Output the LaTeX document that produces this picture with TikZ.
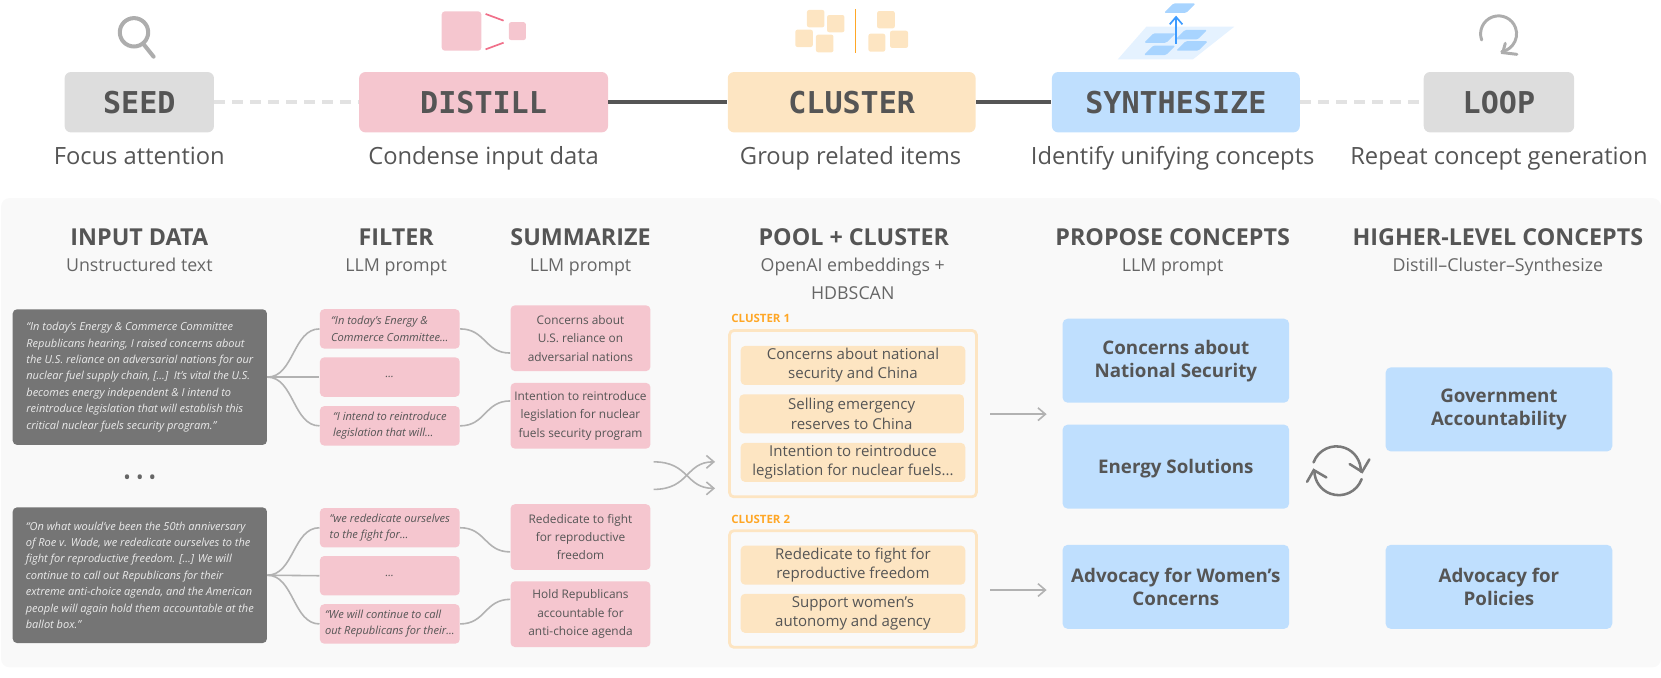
\documentclass[tikz,border=0pt]{standalone}
\usepackage{fontspec}
\setmainfont{Open Sans}
\newfontfamily\monofnt{DejaVu Sans Mono}
\usetikzlibrary{positioning,calc,arrows.meta}
\definecolor{inkgrey}{HTML}{555555}
\definecolor{softgrey}{HTML}{DDDDDD}
\definecolor{softpink}{HTML}{F5C6CF}
\definecolor{softorange}{HTML}{FDE5C2}
\definecolor{softblue}{HTML}{BFDFFE}
\definecolor{iconblue}{HTML}{A8D4FF}
\definecolor{panelgrey}{HTML}{F9F9F9}
\definecolor{strongpink}{HTML}{F0708A}
\definecolor{strongorange}{HTML}{FFA726}
\definecolor{strongblue}{HTML}{3D9BFF}
\tikzset{
  stagebox/.style={rounded corners=3pt, minimum height=28.5pt, inner sep=0pt, text=inkgrey,
    font=\monofnt\bfseries\fontsize{14.2}{16}\selectfont},
  stagetext/.style={anchor=base, text=inkgrey, inner sep=0pt, font=\fontsize{11.2}{14}\selectfont},
  headtext/.style={anchor=base, text=inkgrey, inner sep=0pt, font=\bfseries\fontsize{11}{13}\selectfont},
  subtext/.style={anchor=base, text=inkgrey!90, inner sep=0pt, align=center, font=\fontsize{8.4}{13.5}\selectfont},
  darkbox/.style={fill=black!54, rounded corners=2pt, minimum height=64pt, minimum width=120pt, inner sep=0pt,
    align=left, text=white!92!black, font=\itshape\fontsize{5.2}{7.75}\selectfont},
  filterbox/.style={fill=softpink, rounded corners=2pt, minimum width=66pt, minimum height=18.6pt, inner sep=0pt,
    align=left, text=inkgrey, font=\itshape\fontsize{5.25}{7.7}\selectfont},
  sumbox/.style={fill=softpink, rounded corners=2pt, minimum width=66pt, minimum height=31pt, inner sep=0pt,
    align=center, text=inkgrey, font=\fontsize{5.6}{8.65}\selectfont},
  groupbox/.style={draw=softorange, line width=1.3pt, rounded corners=2pt, minimum width=116.5pt, inner sep=0pt},
  itembox/.style={fill=softorange, rounded corners=2pt, minimum width=106pt, minimum height=18.4pt, inner sep=0pt,
    align=center, text=inkgrey, font=\fontsize{7.1}{9}\selectfont, execute at begin node={\rule{0pt}{7.4pt}}},
  grouptext/.style={anchor=west, inner sep=0pt, text=strongorange, font=\bfseries\fontsize{5.4}{7}\selectfont},
  conceptbox/.style={fill=softblue, rounded corners=2.5pt, minimum width=107pt, minimum height=39.7pt, inner sep=0pt,
    align=center, text=inkgrey, font=\bfseries\fontsize{8.85}{10.8}\selectfont, execute at begin node={\rule{0pt}{8.8pt}}},
  thinline/.style={draw=black!30, line width=0.75pt},
  iconline/.style={draw=black!32, line width=1.9pt, line cap=round},
}
\begin{document}
\begin{tikzpicture}[x=0.5pt, y=-0.5pt, >={Straight Barb[length=3.5pt,width=6pt]}]
\useasboundingbox (0,0) rectangle (1568,640);
\fill[panelgrey, rounded corners=4pt] (1,187) rectangle (1568,630);

% ----------------- Stages -----------------
\node (seedbox) [stagebox, fill=softgrey, minimum width=70.5pt] at (131.5,96.5) {SEED};
\node (distillbox) [stagebox, fill=softpink, minimum width=117.5pt] at (456.5,96.5) {DISTILL};
\node (clusterbox) [stagebox, fill=softorange, minimum width=117pt] at (804,96.5) {CLUSTER};
\node (synthbox) [stagebox, fill=softblue, minimum width=117pt] at (1110,96.5) {SYNTHESIZE};
\node (loopbox) [stagebox, fill=softgrey, minimum width=71pt] at (1415,96.5) {LOOP};

\node (seedtext) [stagetext] at (131.5,155) {Focus attention};
\node (distilltext) [stagetext] at (456.5,155) {Condense input data};
\node (clustertext) [stagetext] at (803,155) {Group related items};
\node (synthtext) [stagetext] at (1107,155) {Identify unifying concepts};
\node (looptext) [stagetext] at (1415,155) {Repeat concept generation};

\draw[softgrey!85, line width=1.9pt, dash pattern=on 5pt off 3.5pt] (seedbox) -- (distillbox);
\draw[inkgrey, line width=1.9pt] (distillbox) -- (clusterbox);
\draw[inkgrey, line width=1.9pt] (clusterbox) -- (synthbox);
\draw[softgrey!85, line width=1.9pt, dash pattern=on 5pt off 3.5pt] (synthbox) -- (loopbox);

% ----------------- Icons -----------------
\draw[iconline] (126.5,30.5) circle[radius=6.7pt];
\draw[iconline] (135,41) -- (145,53.5);

\fill[softpink, rounded corners=1.5pt] (417,10.7) rectangle (454.4,47.9);
\fill[softpink, rounded corners=1pt] (480.4,21) rectangle (496.4,37.8);
\draw[strongpink, line width=0.8pt] (458.4,13.2) -- (475.4,19.5);
\draw[strongpink, line width=0.8pt] (458.4,46.6) -- (475.4,40.3);

\fill[softorange, rounded corners=1pt] (761.8,9.4) rectangle (778.3,25.8);
\fill[softorange, rounded corners=1pt] (750.8,28) rectangle (767.3,44.4);
\fill[softorange, rounded corners=1pt] (770.3,32.7) rectangle (786.8,49.4);
\fill[softorange, rounded corners=1pt] (780.7,14.2) rectangle (797.2,30.5);
\draw[strongorange, line width=0.8pt] (807.7,8.5) -- (807.7,50.4);
\fill[softorange, rounded corners=1pt] (828,10.4) rectangle (844.7,26.8);
\fill[softorange, rounded corners=1pt] (819.8,31.8) rectangle (835.7,48.8);
\fill[softorange, rounded corners=1pt] (840.2,29) rectangle (857.2,45.3);

\fill[iconblue!30] (1082.2,25.2) -- (1165.2,25.2) -- (1126.2,56) -- (1055.2,56) -- cycle;
\fill[iconblue, rounded corners=0.7pt] (1107.7,3.2) -- ++(21,0) -- ++(-9,9) -- ++(-21,0) -- cycle;
\fill[iconblue, rounded corners=0.7pt] (1089,31.4) -- ++(21,0) -- ++(-9,9) -- ++(-21,0) -- cycle;
\fill[iconblue, rounded corners=0.7pt] (1118.7,28.2) -- ++(21,0) -- ++(-9,9) -- ++(-21,0) -- cycle;
\fill[iconblue, rounded corners=0.7pt] (1088.7,43) -- ++(21,0) -- ++(-9,9) -- ++(-21,0) -- cycle;
\fill[iconblue, rounded corners=0.7pt] (1119.2,38.9) -- ++(21,0) -- ++(-9,9) -- ++(-21,0) -- cycle;
\draw[->, draw=strongblue, line width=0.8pt] (1110.2,41.5) -- (1110.2,14.8);

\draw[draw=black!32, line width=1.4pt, line cap=round] (1398.7,37.8) arc[start angle=200, end angle=-80, radius=8.5pt];
\draw[draw=black!32, line width=1.4pt, line cap=round] (1421,40.9) -- (1418.6,49.7) -- (1432,51.3);

% ----------------- Headers -----------------
\node (inputhead) [headtext] at (131.5,232) {INPUT DATA};
\node (inputsub) [subtext] at (131.5,256) {Unstructured text};
\node (filterhead) [headtext] at (374,232) {FILTER};
\node (filtersub) [subtext] at (374,256) {LLM prompt};
\node (sumhead) [headtext] at (548,232) {SUMMARIZE};
\node (sumsub) [subtext] at (548,256) {LLM prompt};
\node (poolhead) [headtext] at (806,232) {POOL + CLUSTER};
\node (poolsub) [subtext] at (805,283) {OpenAI embeddings +\\HDBSCAN};
\node (conchead) [headtext] at (1107,232) {PROPOSE CONCEPTS};
\node (concsub) [subtext] at (1107,256) {LLM prompt};
\node (highhead) [headtext] at (1414,232) {HIGHER-LEVEL CONCEPTS};
\node (highsub) [subtext] at (1414,256) {Distill--Cluster--Synthesize};

% ----------------- Input data -----------------
\node (dark1) [darkbox] at (132,356) {“In today’s Energy \& Commerce Committee\\
Republicans hearing, I raised concerns about\\
the U.S. reliance on adversarial nations for our\\
nuclear fuel supply chain, [...]\ \ It’s vital the U.S.\\
becomes energy independent \& I intend to\\
reintroduce legislation that will establish this\\
critical nuclear fuels security program.”};
\node (dark2) [darkbox] at (132,543) {“On what would’ve been the 50th anniversary\\
of Roe v. Wade, we rededicate ourselves to the\\
fight for reproductive freedom. [...] We will\\
continue to call out Republicans for their\\
extreme anti-choice agenda, and the American\\
people will again hold them accountable at the\\
ballot box.”};
\node (moredots) [inner sep=0pt, text=black!60, font=\fontsize{9.4}{11}\selectfont] at (132,453) {• • •};

% ----------------- Filter -----------------
\node (filt1) [filterbox] at (368,310.5) {“In today’s Energy \&\\Commerce Committee...};
\node (filt2) [filterbox] at (368,356) {...};
\node (filt3) [filterbox] at (368,402) {“I intend to reintroduce\\legislation that will...};
\node (filt4) [filterbox] at (368,498.2) {“we rededicate ourselves\\to the fight for...};
\node (filt5) [filterbox] at (368,543.5) {...};
\node (filt6) [filterbox] at (368,589) {“We will continue to call\\out Republicans for their...};

% ----------------- Summarize -----------------
\node (summ1) [sumbox] at (548,319.3) {Concerns about\\U.S. reliance on\\adversarial nations};
\node (summ2) [sumbox] at (548,392.5) {Intention to reintroduce\\legislation for nuclear\\fuels security program};
\node (summ3) [sumbox] at (548,507) {Rededicate to fight\\for reproductive\\freedom};
\node (summ4) [sumbox] at (548,579.8) {Hold Republicans\\accountable for\\anti-choice agenda};

% ----------------- Connectors -----------------
\draw[thinline] (dark1.east) .. controls +(25,0) and +(-25,0) .. (filt1.west);
\draw[thinline] (dark1.east) -- (filt2.west);
\draw[thinline] (dark1.east) .. controls +(25,0) and +(-25,0) .. (filt3.west);
\draw[thinline] (dark2.east) .. controls +(25,0) and +(-25,0) .. (filt4.west);
\draw[thinline] (dark2.east) -- (filt5.west);
\draw[thinline] (dark2.east) .. controls +(25,0) and +(-25,0) .. (filt6.west);

\draw[thinline] (filt1.east) .. controls +(24,0) and +(-24,0) .. ($(summ1.west)+(0,14)$);
\draw[thinline] (filt3.east) .. controls +(24,0) and +(-24,0) .. ($(summ2.west)+(0,-14)$);
\draw[thinline] (filt4.east) .. controls +(24,0) and +(-24,0) .. ($(summ3.west)+(0,14)$);
\draw[thinline] (filt6.east) .. controls +(24,0) and +(-24,0) .. ($(summ4.west)+(0,-14)$);

\coordinate (crossa) at (617,436);
\coordinate (crossb) at (675,461);
\coordinate (crossc) at (617,462);
\coordinate (crossd) at (675,436);
\draw[->, thinline] (crossa) .. controls +(34,0) and +(-28,0) .. (crossb);
\draw[->, thinline] (crossc) .. controls +(34,0) and +(-28,0) .. (crossd);

% ----------------- Clusters -----------------
\node (group1) [groupbox, minimum height=78.5pt] at (805.2,390.5) {};
\node (group2) [groupbox, minimum height=55pt] at (805.2,556) {};
\node (grouplabel1) [grouptext] at (690,301) {CLUSTER 1};
\node (grouplabel2) [grouptext] at (690,490) {CLUSTER 2};

\node (item1) [itembox] at (805.2,345) {Concerns about national\\security and China};
\node (item2) [itembox] at (804,390.7) {Selling emergency\\reserves to China};
\node (item3) [itembox] at (805.2,436.5) {Intention to reintroduce\\legislation for nuclear fuels...};
\node (item4) [itembox] at (805.2,533.5) {Rededicate to fight for\\reproductive freedom};
\node (item5) [itembox] at (805.2,579) {Support women's\\autonomy and agency};

\coordinate (arrowa) at (935,391);
\coordinate (arrowb) at (988,391);
\coordinate (arrowc) at (935,557);
\coordinate (arrowd) at (988,557);
\draw[->, thinline] (arrowa) -- (arrowb);
\draw[->, thinline] (arrowc) -- (arrowd);

% ----------------- Concepts -----------------
\node (conc1) [conceptbox] at (1110,340.5) {Concerns about\\National Security};
\node (conc2) [conceptbox] at (1110,440.5) {Energy Solutions};
\node (conc3) [conceptbox] at (1110,554) {Advocacy for Women’s\\Concerns};
\node (high1) [conceptbox] at (1415,386.5) {Government\\Accountability};
\node (high2) [conceptbox] at (1415,554) {Advocacy for\\Policies};

% cycle icon
\draw[draw=black!52, line width=1.2pt, line cap=round] (1240,436.5) arc[start angle=160, end angle=-2, radius=11.5pt];
\draw[draw=black!52, line width=1.2pt, line cap=round] (1274.1,438.1) -- (1285.8,445.4) -- (1292.7,433.7);
\draw[draw=black!52, line width=1.2pt, line cap=round] (1285.4,452.3) arc[start angle=-20, end angle=-180, radius=11.5pt];
\draw[draw=black!52, line width=1.2pt, line cap=round] (1252.1,450.7) -- (1240.2,443.8) -- (1233.9,454.8);
\end{tikzpicture}
\end{document}
